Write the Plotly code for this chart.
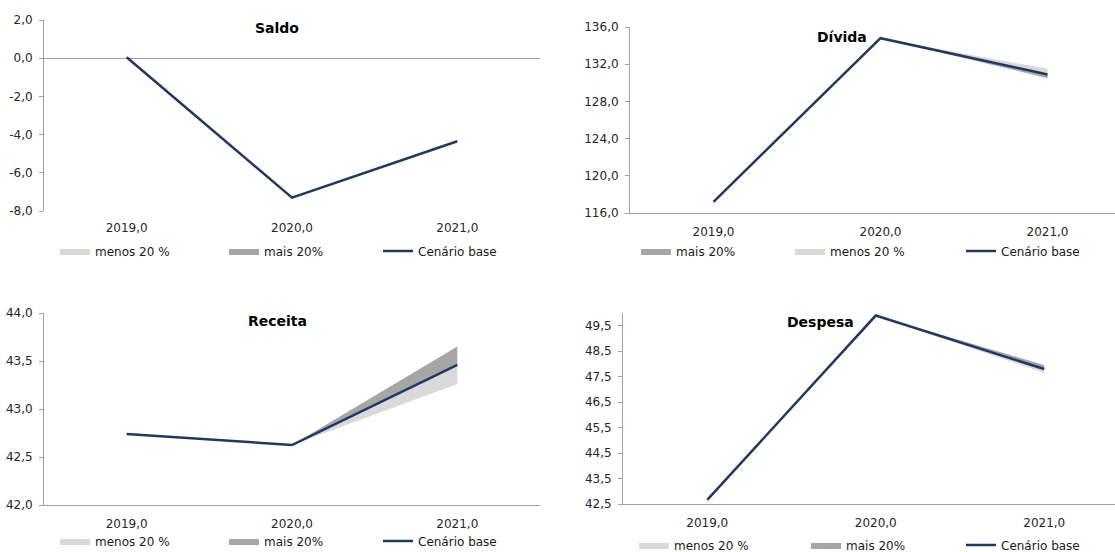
import plotly.graph_objects as go

# ---------------- data ----------------
years = [2019, 2020, 2021]
year_labels = ["2019,0", "2020,0", "2021,0"]

saldo_base = [0.05, -7.30, -4.35]
saldo_mais = [0.05, -7.30, -4.32]
saldo_menos = [0.05, -7.30, -4.38]

divida_base = [117.2, 134.8, 130.9]
divida_mais = [117.2, 134.8, 130.5]
divida_menos = [117.2, 134.8, 131.5]

receita_base = [42.74, 42.625, 43.46]
receita_mais = [42.74, 42.625, 43.65]
receita_menos = [42.74, 42.625, 43.26]

despesa_base = [42.66, 49.90, 47.80]
despesa_mais = [42.66, 49.90, 47.96]
despesa_menos = [42.66, 49.90, 47.65]

saldo_ticks = [-8, -6, -4, -2, 0, 2]
divida_ticks = [116, 120, 124, 128, 132, 136]
receita_ticks = [42.0, 42.5, 43.0, 43.5, 44.0]
despesa_ticks = [42.5, 43.5, 44.5, 45.5, 46.5, 47.5, 48.5, 49.5]

names = {"menos": "menos 20 %", "mais": "mais 20%", "base": "Cenário base"}

# ---------------- styling / layout ----------------
W, H = 1115, 552
FONT = "DejaVu Sans"
NAVY = "#1f3864"
DARK = "#a6a6a6"
LIGHT = "#d9d9d9"
AXIS = "#a0a0a0"
TXT = "#262626"


def fx(x):
    return x / W


def fy(y):
    return 1 - y / H


def lab(v):
    return f"{v:.1f}".replace(".", ",")


panels = [
    dict(title="Saldo", base=saldo_base, mais=saldo_mais, menos=saldo_menos,
         ticks=saldo_ticks, yrange=(-8, 2), xd=(44, 540), yd=(20, 211),
         xrange=(2018.5, 2021.5), tpos=(277, 28), ly=251,
         lx={"menos": 62, "mais": 231, "base": 385}, zero=True),
    dict(title="Dívida", base=divida_base, mais=divida_mais, menos=divida_menos,
         ticks=divida_ticks, yrange=(116, 136), xd=(630, 1115), yd=(27, 213),
         xrange=(2018.5, 2018.5 + 485 / 167.0), tpos=(842, 37), ly=251,
         lx={"mais": 643, "menos": 797, "base": 968}, zero=False),
    dict(title="Receita", base=receita_base, mais=receita_mais, menos=receita_menos,
         ticks=receita_ticks, yrange=(42, 44), xd=(44, 540), yd=(313, 505),
         xrange=(2018.5, 2021.5), tpos=(277, 321), ly=541,
         lx={"menos": 62, "mais": 231, "base": 385}, zero=False),
    dict(title="Despesa", base=despesa_base, mais=despesa_mais, menos=despesa_menos,
         ticks=despesa_ticks, yrange=(42.5, 50.0), xd=(623, 1115), yd=(313, 504),
         xrange=(2018.5, 2018.5 + 492 / 168.5), tpos=(820, 322), ly=545,
         lx={"menos": 641, "mais": 813, "base": 968}, zero=False),
]

fig = go.Figure()
layout = dict(
    width=W, height=H, margin=dict(l=0, r=0, t=0, b=0, autoexpand=False),
    paper_bgcolor="white", plot_bgcolor="white",
    font=dict(family=FONT, size=12, color=TXT),
    annotations=[], showlegend=True,
)

leg_n = 0
for i, p in enumerate(panels, start=1):
    xa = "x" if i == 1 else f"x{i}"
    ya = "y" if i == 1 else f"y{i}"
    legids = {}
    for key in ["menos", "mais", "base"]:
        leg_n += 1
        lid = "legend" if leg_n == 1 else f"legend{leg_n}"
        legids[key] = lid
        layout[lid] = dict(
            x=fx(p["lx"][key] - 7), y=fy(p["ly"]), xanchor="left", yanchor="middle",
            orientation="h", bgcolor="rgba(0,0,0,0)", borderwidth=0,
            font=dict(family=FONT, size=12, color="#1a1a1a"), itemwidth=30,
        )
    # bands: fill from base to the scenario value
    for key, col in [("menos", LIGHT), ("mais", DARK)]:
        fig.add_trace(go.Scatter(
            x=years, y=p["base"], mode="lines", line=dict(width=0, color=col),
            showlegend=False, hoverinfo="skip", xaxis=xa, yaxis=ya))
        fig.add_trace(go.Scatter(
            x=years, y=p[key], mode="lines", line=dict(width=0, color=col),
            fill="tonexty", fillcolor=col, name=names[key],
            legend=legids[key], xaxis=xa, yaxis=ya))
    fig.add_trace(go.Scatter(
        x=years, y=p["base"], mode="lines", line=dict(width=2.5, color=NAVY),
        name=names["base"], legend=legids["base"], xaxis=xa, yaxis=ya))

    xk = "xaxis" if i == 1 else f"xaxis{i}"
    yk = "yaxis" if i == 1 else f"yaxis{i}"
    layout[xk] = dict(
        domain=[fx(p["xd"][0]), fx(p["xd"][1])], anchor=ya, range=list(p["xrange"]),
        tickvals=years, ticktext=year_labels, showgrid=False, zeroline=False,
        showline=not p["zero"], linecolor=AXIS, linewidth=1, ticks="",
        tickfont=dict(family=FONT, size=12, color=TXT), ticklabelstandoff=8,
    )
    layout[yk] = dict(
        domain=[fy(p["yd"][1]), fy(p["yd"][0])], anchor=xa, range=list(p["yrange"]),
        tickvals=p["ticks"], ticktext=[lab(v) for v in p["ticks"]],
        showgrid=False, zeroline=p["zero"], zerolinecolor=AXIS, zerolinewidth=1,
        showline=True, linecolor=AXIS, linewidth=1, ticks="outside", ticklen=4,
        tickcolor=AXIS, tickfont=dict(family=FONT, size=12, color=TXT),
        ticklabelstandoff=4,
    )
    layout["annotations"].append(dict(
        text=f"<b>{p['title']}</b>", x=fx(p["tpos"][0]), y=fy(p["tpos"][1]),
        xref="paper", yref="paper", xanchor="center", yanchor="middle",
        showarrow=False, font=dict(family=FONT, size=14, color="#000000")))

fig.update_layout(**layout)
fig.write_html(
    "out.html",
    config={"displayModeBar": False},
    post_script="document.body.style.margin='0px';document.body.style.overflow='hidden';",
)
